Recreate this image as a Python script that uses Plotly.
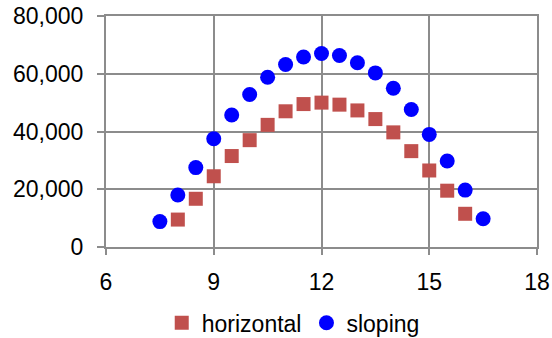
import plotly.graph_objects as go

h_x = [8, 8.5, 9, 9.5, 10, 10.5, 11, 11.5, 12, 12.5, 13, 13.5, 14, 14.5, 15, 15.5, 16]
h_y = [9500, 16700, 24500, 31500, 37000, 42300, 47000, 49500, 50000, 49300, 47300, 44300, 39700, 33200, 26500, 19500, 11500]

s_x = [7.5, 8, 8.5, 9, 9.5, 10, 10.5, 11, 11.5, 12, 12.5, 13, 13.5, 14, 14.5, 15, 15.5, 16, 16.5]
s_y = [8800, 18000, 27500, 37500, 45700, 52800, 58800, 63200, 65800, 67000, 66300, 63800, 60300, 55000, 47600, 39000, 29800, 19700, 9800]

FONT = dict(family="Liberation Sans, Arial", size=23, color="#000")

fig = go.Figure()
fig.add_trace(go.Scatter(x=h_x, y=h_y, mode="markers", name="horizontal",
                         marker=dict(symbol="square", size=14, color="#C0504D",
                                     line=dict(width=0))))
fig.add_trace(go.Scatter(x=s_x, y=s_y, mode="markers", name="sloping",
                         marker=dict(symbol="circle", size=15, color="#0000FF",
                                     line=dict(width=0))))

axis_common = dict(showgrid=True, gridcolor="#8c8c8c", gridwidth=2,
                   showline=True, linecolor="#8c8c8c", linewidth=2, mirror=True,
                   ticks="outside", tickcolor="#8c8c8c", tickwidth=2,
                   zeroline=False, tickfont=FONT, automargin=False)

fig.update_xaxes(range=[6, 18], tick0=6, dtick=3, ticklen=6, ticklabelstandoff=7, **axis_common)
fig.update_yaxes(range=[0, 80000], dtick=20000, tickformat=",", ticklen=7, ticklabelstandoff=9, **axis_common)

fig.update_layout(
    width=552, height=338,
    margin=dict(l=106, r=15, t=16, b=91),
    plot_bgcolor="white", paper_bgcolor="white",
    showlegend=True,
    legend=dict(orientation="h", xref="container", x=0.293, xanchor="left",
                yref="container", y=0.045, yanchor="middle",
                font=FONT, itemwidth=30, tracegroupgap=0),
)

fig.write_html("out.html")
